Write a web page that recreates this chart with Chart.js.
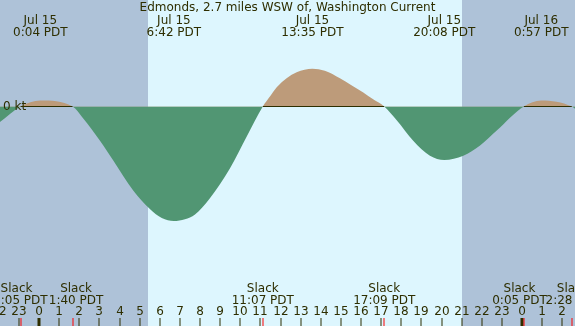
<!DOCTYPE html>
<html>
<head>
<meta charset="utf-8">
<script src="https://cdn.jsdelivr.net/npm/chart.js@4"></script>
<style>
html,body{margin:0;padding:0;background:#aec2d8;}
#c{display:block;}
</style>
</head>
<body>
<canvas id="c" width="575" height="326"></canvas>
<script>
// ---- data (hours relative to Jul 15 00:00 PDT) ----
const title = 'Edmonds, 2.7 miles WSW of, Washington Current';
const currentHours = [-1.94, -0.917, 0.067, 1.667, 2.20, 3.03, 3.69, 4.68, 5.51, 6.10, 6.70, 7.25, 7.75, 8.49, 9.49, 10.32, 11.117, 11.50, 11.81, 12.30, 12.80, 13.583, 14.20, 14.95, 15.50, 16.11, 16.60, 17.15, 17.77, 18.59, 19.42, 20.133, 21.08, 21.91, 22.74, 24.083, 24.95, 26.467, 26.63];
const currentKt    = [-0.26, 0, 0.10, 0, -0.20, -0.57, -0.90, -1.40, -1.71, -1.86, -1.91, -1.88, -1.80, -1.53, -1.03, -0.50, 0, 0.18, 0.32, 0.47, 0.57, 0.63, 0.595, 0.47, 0.36, 0.235, 0.12, 0, -0.23, -0.57, -0.82, -0.89, -0.82, -0.65, -0.40, 0, 0.10, 0, -0.04];
const eventHours = [0.067, 6.70, 13.583, 20.133, 24.95];
const eventDates = ['Jul 15', 'Jul 15', 'Jul 15', 'Jul 15', 'Jul 16'];
const eventTimes = ['0:04 PDT', '6:42 PDT', '13:35 PDT', '20:08 PDT', '0:57 PDT'];
const slackHours = [-0.917, 1.667, 11.117, 17.15, 24.083, 26.467];
const slackTimes = ['23:05 PDT', '1:40 PDT', '11:07 PDT', '17:09 PDT', '0:05 PDT', '2:28 PDT'];
const sunHours = [5.42, 21.02];            // sunrise, sunset
const hourTicks = [-2,-1,0,1,2,3,4,5,6,7,8,9,10,11,12,13,14,15,16,17,18,19,20,21,22,23,24,25,26];
const yUnit = 'kt';

// ---- styling / layout ----
const NIGHT = '#aec2d8', DAY = '#ddf6fe';
const FLOOD = '#bd9b7a', EBB = '#519673';
const INK = '#2e2e00';
const FONT = '12px "DejaVu Sans"';
const slackNudge = [-4, 3.5, 0, 0, -4.3, 1];

// zero line segments only over flood spans (slack pairs)
const zeroLine = [];
for (let i = 0; i + 1 < slackHours.length; i += 2) {
  zeroLine.push({x: slackHours[i], y: 0}, {x: slackHours[i + 1], y: 0}, {x: slackHours[i + 1] + 0.01, y: null});
}

const decor = {
  id: 'decor',
  beforeDraw(chart) {
    const ctx = chart.ctx, x = chart.scales.x;
    ctx.save();
    ctx.fillStyle = NIGHT;
    ctx.fillRect(0, 0, chart.width, chart.height);
    const a = Math.round(x.getPixelForValue(sunHours[0]));
    const b = Math.round(x.getPixelForValue(sunHours[1]));
    ctx.fillStyle = DAY;
    ctx.fillRect(a, 0, b - a, chart.height);
    ctx.restore();
  },
  afterDraw(chart) {
    const ctx = chart.ctx, x = chart.scales.x, y = chart.scales.y;
    ctx.save();
    ctx.font = FONT;
    ctx.fillStyle = INK;
    ctx.textBaseline = 'alphabetic';
    ctx.textAlign = 'center';
    ctx.fillText(title, chart.width / 2, 11);
    eventHours.forEach((h, i) => {
      const px = x.getPixelForValue(h);
      ctx.fillText(eventDates[i], px, 24);
      ctx.fillText(eventTimes[i], px, 36);
    });
    slackHours.forEach((h, i) => {
      const px = x.getPixelForValue(h) + slackNudge[i];
      ctx.fillText('Slack', px, 292);
      ctx.fillText(slackTimes[i], px, 304);
    });
    hourTicks.forEach(h => {
      const px = Math.round(x.getPixelForValue(h));
      const lab = String(((h % 24) + 24) % 24);
      ctx.fillStyle = INK;
      ctx.fillText(lab, px, 315);
      if (h % 24 === 0) ctx.fillRect(px - 1.5, 318, 3, 8);
      else ctx.fillRect(px - 0.5, 318, 1, 8);
    });
    ctx.fillStyle = '#ff0000';
    slackHours.forEach(h => {
      const px = Math.round(x.getPixelForValue(h));
      ctx.fillRect(px - 0.5, 318, 1, 8);
    });
    ctx.fillStyle = INK;
    ctx.textAlign = 'left';
    ctx.textBaseline = 'middle';
    ctx.fillText('0 ' + yUnit, 3, y.getPixelForValue(0));
    ctx.restore();
  }
};

new Chart(document.getElementById('c'), {
  type: 'line',
  data: {
    datasets: [
      {
        data: zeroLine,
        borderColor: INK,
        borderWidth: 1,
        pointRadius: 0,
        fill: false,
        spanGaps: false,
        order: 0
      },
      {
        data: currentHours.map((h, i) => ({x: h, y: currentKt[i]})),
        borderWidth: 0,
        borderColor: 'rgba(0,0,0,0)',
        pointRadius: 0,
        cubicInterpolationMode: 'monotone',
        fill: {target: 'origin', above: FLOOD, below: EBB},
        order: 1
      }
    ]
  },
  options: {
    responsive: false,
    animation: false,
    devicePixelRatio: 1,
    layout: {padding: 0},
    scales: {
      x: {type: 'linear', display: false, min: -39 / 20.13, max: 536 / 20.13},
      y: {display: false, min: -(326 - 106.5) / 60, max: 106.5 / 60}
    },
    plugins: {legend: {display: false}, tooltip: {enabled: false}, title: {display: false}}
  },
  plugins: [decor]
});
</script>
</body>
</html>
